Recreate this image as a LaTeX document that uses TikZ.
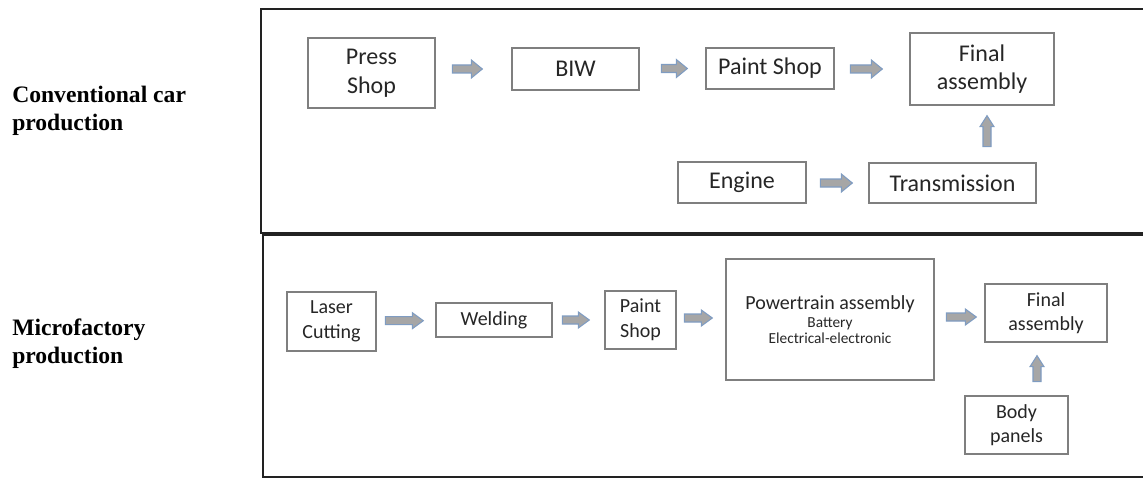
\documentclass[tikz,border=0pt]{standalone}
\usepackage{fontspec}
\setmainfont{Carlito}
\newfontfamily\lblfont{Liberation Serif}
\usetikzlibrary{calc}
\definecolor{boxline}{HTML}{7F7F7F}
\definecolor{arrfill}{HTML}{A6A6A6}
\definecolor{arredge}{HTML}{7F9CC2}
\definecolor{frameline}{HTML}{222222}
\definecolor{txt}{HTML}{262626}
\tikzset{
  box/.style={draw=boxline, line width=1pt, inner sep=0pt, align=center, text=txt},
  sz/.style 2 args={minimum width={#1*0.75pt}, minimum height={#2*0.75pt}},
  bigtxt/.style={font=\fontsize{18pt}{21.5pt}\selectfont},
  midtxt/.style={font=\fontsize{15pt}{18.5pt}\selectfont},
  lbl/.style={font=\lblfont\bfseries\fontsize{17.7pt}{21pt}\selectfont, align=left, inner sep=0pt, anchor=west},
  frame/.style={draw=frameline, line width=2pt},
  arrowstyle/.style={draw=arredge, fill=arrfill, line width=0.8pt, line join=miter},
  pics/barrow/.style args={#1/#2}{code={
    \draw[arrowstyle] (0,-4) -- ({#1-11},-4) -- ({#1-11},-#2) -- (#1,0)
      -- ({#1-11},#2) -- ({#1-11},4) -- (0,4) -- cycle;}}
}
\begin{document}
\begin{tikzpicture}[x=0.75pt, y=-0.75pt]
\useasboundingbox (0,0) rectangle (1143,478);
% frames
\draw[frame] (1143,9) -- (261,9) -- (261,233) -- (1143,233);
\draw[frame, line width=1.6pt] (1143,234.5) -- (263,234.5) -- (263,477) -- (1143,477);
% labels
\node[lbl] (l1) at (12,111) {Conventional car\\production};
\node[lbl] (l2) at (12,343.5) {Microfactory\\production};
% conventional
\node[box, bigtxt, sz={127}{70}] (ps) at (371.5,73) {Press\\Shop};
\node[box, bigtxt, sz={127}{42}] (biw) at (575.5,69) {BIW};
\node[box, bigtxt, sz={128}{41}] (pshop) at (770,68.5) {Paint Shop};
\node[box, bigtxt, sz={144}{72}] (fa) at (982,69) {Final\\assembly};
\node[box, bigtxt, sz={128}{41}] (eng) at (742,182.5) {Engine};
\node[box, bigtxt, sz={167}{40}] (tr) at (952.5,183) {Transmission};
\pic at ($(biw.west)+(-59,0)$) {barrow={30/9}};
\pic at ($(pshop.west)+(-44,0)$) {barrow={26/9}};
\pic at ($(fa.west)+(-59,0)$) {barrow={32/9}};
\pic at ($(tr.west)+(-48,0)$) {barrow={32/9}};
\pic[rotate=90] at ($(fa.south)+(5,41)$) {barrow={31/7}};
% microfactory
\node[box, midtxt, sz={89}{59}] (lc) at (331.5,321.5) {Laser\\Cutting};
\node[box, midtxt, sz={116}{34}] (wd) at (494,320) {Welding};
\node[box, midtxt, sz={71}{58}] (ps2) at (640.5,320) {Paint\\Shop};
\node[box, sz={208}{121}] (pt) at (830,319.5) {{\fontsize{15pt}{17pt}\selectfont Powertrain assembly}\\[1pt]{\fontsize{11.5pt}{13pt}\selectfont Battery}\\{\fontsize{11.5pt}{13pt}\selectfont Electrical-electronic}};
\node[box, midtxt, sz={122}{58}] (fa2) at (1046,313) {Final\\assembly};
\node[box, midtxt, sz={103}{58}] (bp) at (1016.5,425) {Body\\panels};
\pic at ($(wd.west)+(-50,0.7)$) {barrow={38/8}};
\pic at ($(ps2.west)+(-42,0)$) {barrow={27/8}};
\pic at ($(pt.west)+(-41,-1.5)$) {barrow={28/8}};
\pic at ($(fa2.west)+(-38,4)$) {barrow={30/8}};
\pic[rotate=90] at ($(fa2.south)+(-9,39)$) {barrow={26/7}};
\end{tikzpicture}
\end{document}
